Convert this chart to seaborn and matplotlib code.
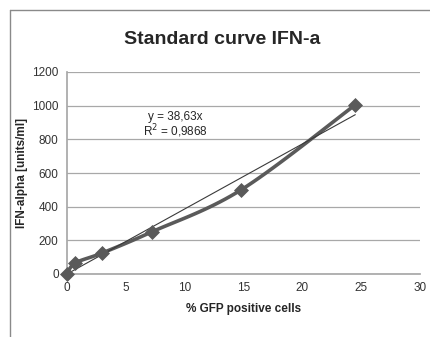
import numpy as np
import pandas as pd
import matplotlib
matplotlib.use("Agg")
import matplotlib.pyplot as plt
import seaborn as sns
from matplotlib.lines import Line2D

# data
gfp = [0.0, 0.7, 3.0, 7.2, 14.8, 24.5]
ifn = [0.0, 65.0, 125.0, 250.0, 500.0, 1005.0]
slope = 38.63
r2 = 0.9868
xticks = [0, 5, 10, 15, 20, 25, 30]
yticks = [0, 200, 400, 600, 800, 1000, 1200]

sns.set_theme(style="white")
plt.rcParams['font.family'] = ['Liberation Sans Narrow', 'Liberation Sans', 'DejaVu Sans']

fig = plt.figure(figsize=(4.3, 3.37), dpi=100)
ax = fig.add_axes([67/430, 1-274/337, (420-67)/430, (274-72)/337])

# smooth (Catmull-Rom) curve through the points, like Excel smoothed lines
def catmull(xs, ys, n=20):
    P = np.column_stack([xs, ys])
    P = np.vstack([P[0], P, P[-1]])
    out = []
    for i in range(1, len(P)-2):
        p0, p1, p2, p3 = P[i-1], P[i], P[i+1], P[i+2]
        t = np.linspace(0, 1, n)[:, None]
        seg = 0.5*((2*p1) + (-p0+p2)*t + (2*p0-5*p1+4*p2-p3)*t**2 + (-p0+3*p1-3*p2+p3)*t**3)
        out.append(seg if i == 1 else seg[1:])
    return np.vstack(out)

sm = catmull(np.array(gfp), np.array(ifn))
df_s = pd.DataFrame({"x": sm[:, 0], "y": sm[:, 1]})
sns.lineplot(data=df_s, x="x", y="y", sort=False, ax=ax, color="#5a5a5a", lw=2.6, estimator=None)

df = pd.DataFrame({"x": gfp, "y": ifn})
sns.scatterplot(data=df, x="x", y="y", marker="D", s=50, color="#5a5a5a", edgecolor="#5a5a5a",
                ax=ax, zorder=5, clip_on=False)

tr = pd.DataFrame({"x": [0, max(gfp)], "y": [0, slope*max(gfp)]})
sns.lineplot(data=tr, x="x", y="y", ax=ax, color="#3a3a3a", lw=0.8)

ax.set_xlim(0, 30)
ax.set_ylim(0, 1200)
ax.set_xticks(xticks)
ax.set_yticks(yticks)
ax.yaxis.grid(True, color="#a8a8a8", lw=0.9)
ax.set_axisbelow(True)
for s in ["top", "right"]:
    ax.spines[s].set_visible(False)
ax.spines["left"].set_color("#a8a8a8")
ax.spines["bottom"].set_color("#a8a8a8")
ax.tick_params(axis="both", labelsize=8.5, colors="#333333", length=0, pad=6)
ax.set_xlabel("% GFP positive cells", fontsize=8.5, fontweight="bold", labelpad=6)
ax.set_ylabel("IFN-alpha [units/ml]", fontsize=8.5, fontweight="bold", labelpad=3)

ax.text(9.2, 933, "y = 38,63x", ha="center", va="center", fontsize=8.5)
ax.text(9.2, 848, "R$^2$ = 0,9868", ha="center", va="center", fontsize=8.5)

fig.text(222/430, 1-40/337, "Standard curve IFN-a", ha="center", va="center",
         fontsize=14, fontweight="bold")

# chart-area frame
fig.add_artist(Line2D([10/430, 10/430], [0, 1-10/337], transform=fig.transFigure, color="#8a8a8a", lw=1))
fig.add_artist(Line2D([10/430, 1], [1-10/337, 1-10/337], transform=fig.transFigure, color="#8a8a8a", lw=1))

fig.savefig("out.png", dpi=100)
